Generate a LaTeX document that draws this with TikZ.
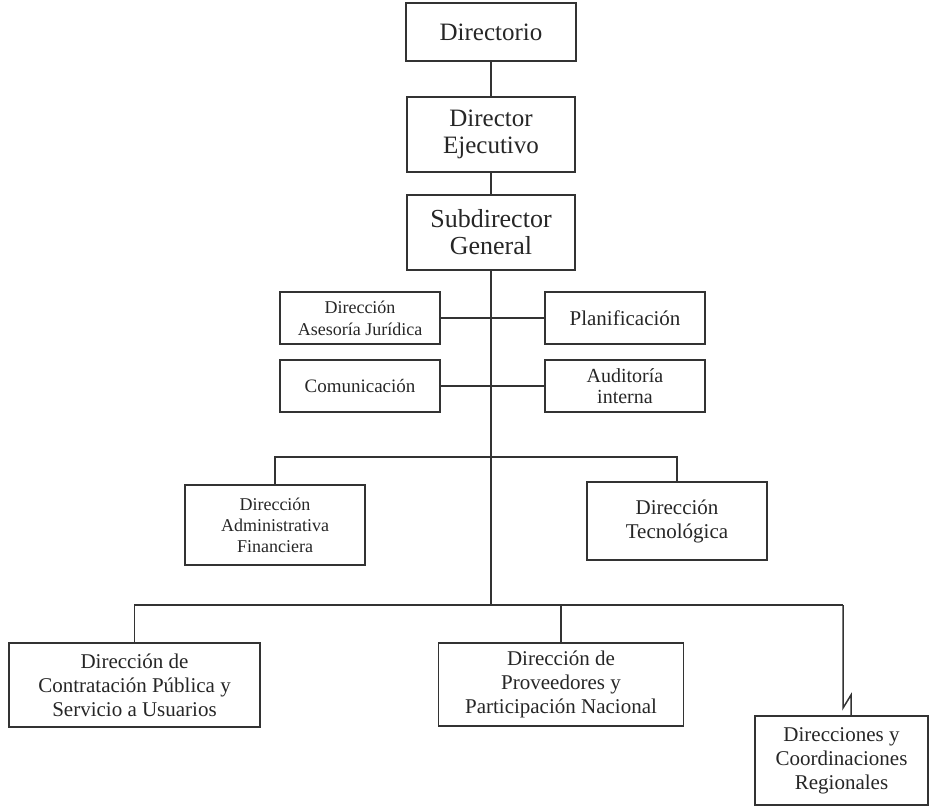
\documentclass[tikz,border=0pt]{standalone}
\usepackage{fontspec}
\setmainfont{Liberation Serif}

\begin{document}
\begin{tikzpicture}[x=0.5pt, y=-0.5pt,
  block/.style={rectangle, draw=black!80, line width=0.9pt, align=center, inner sep=2pt, text=black!85, font=\fontsize{10.5}{12}\selectfont},
  topblock/.style={block, minimum width=84pt, minimum height=37.5pt, font=\fontsize{12.5}{13.5}\selectfont},
  staffblock/.style={block, minimum width=80pt, minimum height=26pt, font=\fontsize{9.5}{11}\selectfont},
  link/.style={draw=black!80, line width=0.75pt}]

  \path[use as bounding box] (0,0) rectangle (930,807);

  \node[topblock, minimum width=85pt, minimum height=29pt] (dir) at (491,32) {Directorio};
  \node[topblock, below of=dir, node distance=51.25pt] (ejec) {Director\\Ejecutivo};
  \node[topblock, below of=ejec, node distance=49pt, font=\fontsize{13}{13.5}\selectfont] (sub) {Subdirector\\General};

  % staff units
  \node[coordinate, below of=sub, node distance=42.75pt] (j1) {};
  \node[coordinate, below of=j1, node distance=34pt] (j2) {};
  \node[staffblock, left of=j1, node distance=65.5pt, font=\fontsize{9}{11}\selectfont] (jur) {Dirección\\Asesoría Jurídica};
  \node[staffblock, right of=j1, node distance=67pt, font=\fontsize{10.5}{11}\selectfont] (plan) {Planificación};
  \node[staffblock, left of=j2, node distance=65.5pt] (com) {Comunicación};
  \node[staffblock, right of=j2, node distance=67pt, font=\fontsize{10}{10.75}\selectfont] (aud) {Auditoría\\interna};

  % support directions
  \node[coordinate, below of=j2, node distance=35.5pt] (j3) {};
  \node[coordinate, left of=j3, node distance=108pt] (b1) {};
  \node[coordinate, right of=j3, node distance=93pt] (b2) {};
  \node[block, below of=b1, node distance=34pt, minimum width=90pt, minimum height=40pt, font=\fontsize{9}{10.5}\selectfont] (adm) {Dirección\\Administrativa\\Financiera};
  \node[block, below of=b2, node distance=32pt, minimum width=90pt, minimum height=39pt] (tec) {Dirección\\Tecnológica};

  % line directions
  \node[coordinate, below of=j3, node distance=74pt] (j4) {};
  \node[coordinate, left of=j4, node distance=178.25pt] (c1) {};
  \node[coordinate, right of=j4, node distance=35pt] (c2) {};
  \node[coordinate, right of=j4, node distance=176pt] (c3) {};
  \node[block, below of=c1, node distance=40pt, minimum width=125.5pt, minimum height=42pt] (con) {Dirección de\\Contratación Pública y\\Servicio a Usuarios};
  \node[block, below of=c2, node distance=39.75pt, minimum width=122.5pt, minimum height=41.5pt] (prov) {Dirección de\\Proveedores y\\Participación Nacional};
  \node[block, below of=c3, node distance=77.75pt, xshift=-0.75pt, minimum width=86.5pt, minimum height=44.5pt] (reg) {Direcciones y\\Coordinaciones\\Regionales};

  \draw[link] (dir) -- (ejec);
  \draw[link] (ejec) -- (sub);
  \draw[link] (sub) -- (j4);
  \draw[link] (jur) -- (plan);
  \draw[link] (com) -- (aud);
  \draw[link] (adm) -- (b1) -- (b2) -- (tec);
  \draw[link] (con) -- (c1) -- (c3);
  \draw[link] (c2) -- (prov);
  \draw[link] (c3) -- ++(0,103) -- ++(8,-13) coordinate (zz) -- (zz |- reg.north);
\end{tikzpicture}
\end{document}
